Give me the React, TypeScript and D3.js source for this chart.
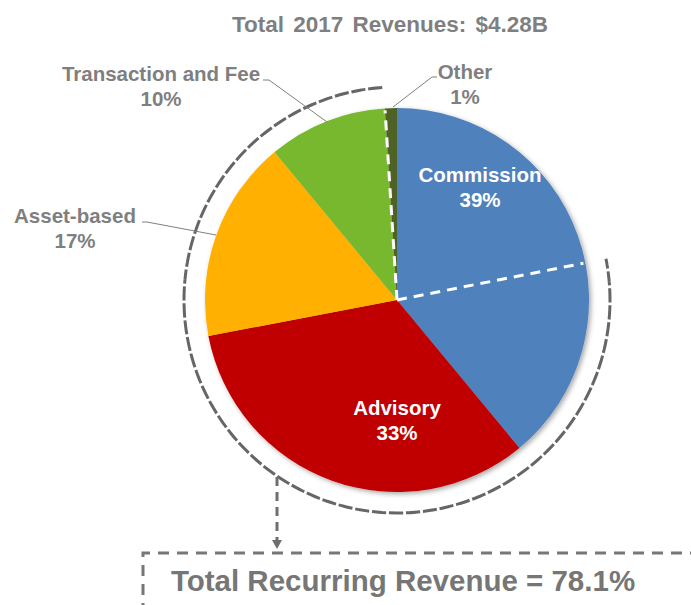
import React, { useEffect, useRef } from 'react';
import * as d3 from 'd3';

// revenue mix, in percent of total
const categories = ['Commission', 'Advisory', 'Asset-based', 'Transaction and Fee', 'Other'];
const shares = [39, 33, 17, 10, 1];
const sliceColors = ['#4F81BD', '#C00000', '#FFB000', '#77B82F', '#4F6228'];
const commissionRecurring = 17.1; // part of commission that counts as recurring
const recurringTotal = 78.1;
const title = 'Total 2017 Revenues: $4.28B';

// where each label goes (absolute positions of the first line)
const labelLayout: Record<string, any> = {
  'Commission': { x: 480, y: 182, fill: '#fff' },
  'Advisory': { x: 397, y: 415, fill: '#fff' },
  'Asset-based': { x: 75, y: 223, fill: '#7f7f7f', line: [[142, 222], [147, 222], [216, 235]] },
  'Transaction and Fee': { x: 161, y: 81, fill: '#7f7f7f', line: [[263, 80], [269, 80], [327, 122]] },
  'Other': { x: 465, y: 79, fill: '#7f7f7f', line: [[437, 77], [432, 77], [393, 107]] },
};

const App = () => {
  const svgRef = useRef(null);
  const width = 691;
  const height = 605;

  useEffect(() => {
    const svg = d3.select(svgRef.current);
    svg.selectAll('*').remove();

    const cx = 397, cy = 300, r = 192;
    const font = "'Liberation Sans', Arial, sans-serif";

    const defs = svg.append('defs');
    defs.append('filter').attr('id', 'shadow')
      .attr('x', '-10%').attr('y', '-10%').attr('width', '120%').attr('height', '120%')
      .append('feDropShadow')
      .attr('dx', 2).attr('dy', 2).attr('stdDeviation', 2.5)
      .attr('flood-color', '#000').attr('flood-opacity', 0.35);

    // title
    svg.append('text')
      .attr('x', 390).attr('y', 32)
      .attr('text-anchor', 'middle')
      .style('font-family', font).style('font-weight', 'bold')
      .style('font-size', '22.5px').style('fill', '#7f7f7f')
      .style('word-spacing', '3px')
      .text(title);

    const pie = d3.pie<number>().sort(null).value(d => d);
    const arcs = pie(shares);
    const arc = d3.arc<any>().innerRadius(0).outerRadius(r);

    const g = svg.append('g').attr('transform', `translate(${cx},${cy})`);
    g.append('g').attr('filter', 'url(#shadow)')
      .selectAll('path')
      .data(arcs)
      .join('path')
      .attr('d', arc)
      .attr('fill', (d, i) => sliceColors[i]);

    const total = d3.sum(shares);
    const angle = d3.scaleLinear().domain([0, total]).range([0, 2 * Math.PI]);
    const pt = (a: number, rr: number) => [rr * Math.sin(a), -rr * Math.cos(a)];

    // recurring span: from inside commission to end of transaction and fee
    const recStart = angle(shares[0] - commissionRecurring);
    const recEnd = angle(d3.sum(shares.slice(0, 4)));

    // white dividers
    [recStart, recEnd].forEach(a => {
      const [x, y] = pt(a, r - 2);
      g.append('line')
        .attr('x1', 0).attr('y1', 0).attr('x2', x).attr('y2', y)
        .attr('stroke', '#fff').attr('stroke-width', 3)
        .attr('stroke-dasharray', '10,7');
    });

    // outer dashed arc around the recurring part
    const outer = d3.arc<any>().innerRadius(213).outerRadius(213)
      .startAngle(recStart).endAngle(recEnd);
    g.append('path')
      .attr('d', outer({}) as string)
      .attr('fill', 'none')
      .attr('stroke', '#666').attr('stroke-width', 3)
      .attr('stroke-dasharray', '10,7');

    // leader lines
    categories.forEach(c => {
      const l = labelLayout[c];
      if (!l.line) return;
      svg.append('path')
        .attr('d', d3.line()(l.line))
        .attr('fill', 'none')
        .attr('stroke', '#7f7f7f').attr('stroke-width', 1);
    });

    // labels
    categories.forEach((c, i) => {
      const l = labelLayout[c];
      const t = svg.append('text')
        .attr('text-anchor', 'middle')
        .style('font-family', font).style('font-weight', 'bold')
        .style('font-size', '20.5px').style('fill', l.fill);
      t.append('tspan').attr('x', l.x).attr('y', l.y).text(c);
      t.append('tspan').attr('x', l.x).attr('y', l.y + 25).text(`${shares[i]}%`);
    });

    // arrow down to the box
    const ax = 277;
    svg.append('line')
      .attr('x1', ax).attr('y1', 477).attr('x2', ax).attr('y2', 541)
      .attr('stroke', '#6f6f6f').attr('stroke-width', 3)
      .attr('stroke-dasharray', '9,6');
    svg.append('path')
      .attr('d', `M${ax - 5},540 L${ax + 5},540 L${ax},549 Z`)
      .attr('fill', '#6f6f6f');

    // dashed box
    svg.append('path')
      .attr('d', `M${width + 10},553 L143,553 L143,${height + 10}`)
      .attr('fill', 'none')
      .attr('stroke', '#777').attr('stroke-width', 3)
      .attr('stroke-dasharray', '11,8');

    svg.append('text')
      .attr('x', 403).attr('y', 591)
      .attr('text-anchor', 'middle')
      .style('font-family', font).style('font-weight', 'bold')
      .style('font-size', '29.5px').style('fill', '#767676')
      .text(`Total Recurring Revenue = ${recurringTotal}%`);
  }, []);

  return (
    <svg ref={svgRef} width={width} height={height}
      style={{ position: 'absolute', left: 0, top: 0, background: '#fff' }}>
    </svg>
  );
};

export default App;
